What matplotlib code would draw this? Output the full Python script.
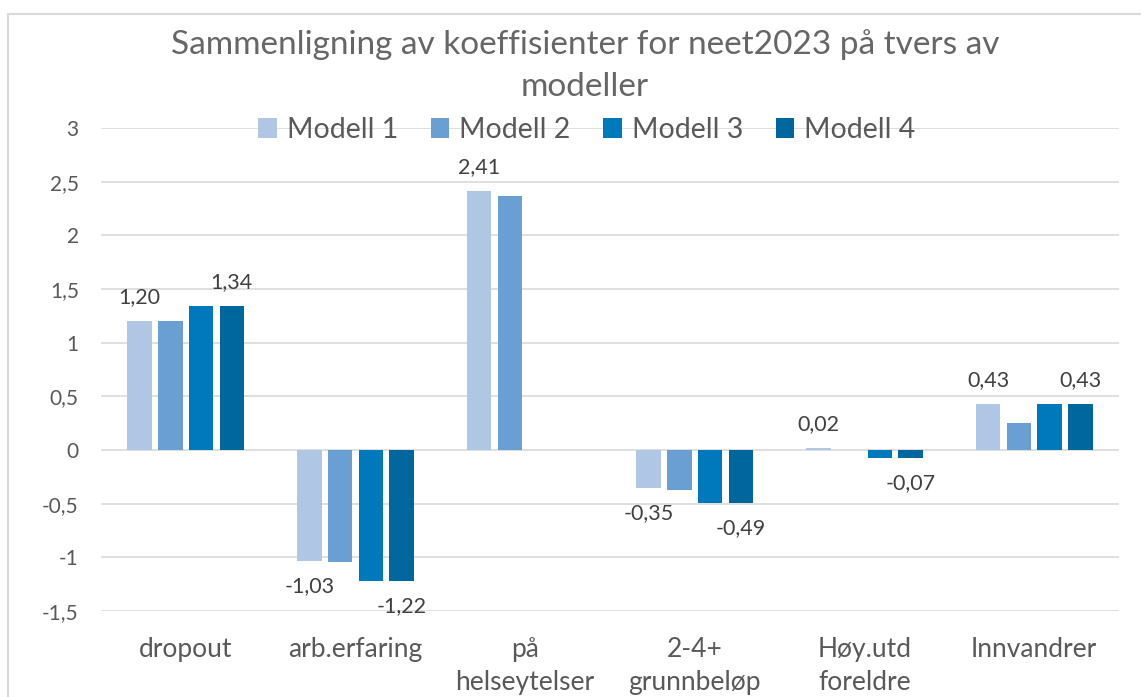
import numpy as np
import matplotlib
matplotlib.use("Agg")
import matplotlib.pyplot as plt
from matplotlib.patches import Rectangle

plt.rcParams['font.family'] = ['Lato', 'DejaVu Sans']

categories = ['dropout', 'arb.erfaring', 'på\nhelseytelser', '2-4+\ngrunnbeløp', 'Høy.utd\nforeldre', 'Innvandrer']
series_names = ['Modell 1', 'Modell 2', 'Modell 3', 'Modell 4']
modell1 = [1.20, -1.03, 2.41, -0.35, 0.02, 0.43]
modell2 = [1.20, -1.04, 2.37, -0.37, 0.00, 0.25]
modell3 = [1.34, -1.22, np.nan, -0.49, -0.07, 0.43]
modell4 = [1.34, -1.22, np.nan, -0.49, -0.07, 0.43]
yticks = [-1.5, -1, -0.5, 0, 0.5, 1, 1.5, 2, 2.5, 3]
colors = ['#AFC6E4', '#6A9FD3', '#0079BC', '#00669E']
labelled = [True, False, False, True]  # Excel shows labels only for model 1 and 4

W, H = 1141, 697
fig = plt.figure(figsize=(W / 100, H / 100), dpi=100)
ax = fig.add_axes([101 / W, 1 - 611 / H, 1018 / W, 483 / H])

x = np.arange(len(categories))
pitch = 0.181
bw = 0.145
all_series = [modell1, modell2, modell3, modell4]
for i, vals in enumerate(all_series):
    pos = x + (i - 1.5) * pitch
    bars = ax.bar(pos, vals, bw, color=colors[i], label=series_names[i], zorder=3)
    if labelled[i]:
        for p, v in zip(pos, vals):
            if np.isnan(v):
                continue
            txt = f'{v:.2f}'.replace('.', ',')
            if v >= 0:
                ax.annotate(txt, (p, v), xytext=(0, 10), textcoords='offset points',
                            ha='center', va='bottom', fontsize=15.5, color='#404040')
            else:
                ax.annotate(txt, (p, v), xytext=(0, -11), textcoords='offset points',
                            ha='center', va='top', fontsize=15.5, color='#404040')

ax.set_xlim(-0.5, len(categories) - 0.5)
ax.set_ylim(-1.5, 3)
ax.set_yticks(yticks)
ax.set_yticklabels([f'{t:g}'.replace('.', ',') for t in yticks], fontsize=15, color='#595959')
ax.set_xticks(x)
ax.set_xticklabels(categories, fontsize=19, color='#595959', linespacing=1.4)
ax.tick_params(axis='both', length=0)
ax.tick_params(axis='x', pad=19)
ax.tick_params(axis='y', pad=16)
ax.grid(axis='y', color='#D9D9D9', linewidth=1.2, zorder=0)
for s in ax.spines.values():
    s.set_visible(False)

fig.text(585 / W, 1 - 66 / H, 'Sammenligning av koeffisienter for neet2023 på tvers av\nmodeller',
         ha='center', va='center', fontsize=24, color='#666666', linespacing=1.5)

leg = fig.legend(loc='center', bbox_to_anchor=(587 / W, 1 - 130 / H), ncol=4, frameon=False,
                 fontsize=20.5, handlelength=0.65, handleheight=0.65, handletextpad=0.35,
                 columnspacing=1.15, labelcolor='#595959')

# chart area border (cropped on right and bottom)
fig.add_artist(Rectangle((8 / W, -0.1), 1.2, 1 - 14 / H + 0.1, transform=fig.transFigure,
                         fill=False, edgecolor='#D9D9D9', linewidth=1.5))

fig.savefig('out.png', dpi=100)
